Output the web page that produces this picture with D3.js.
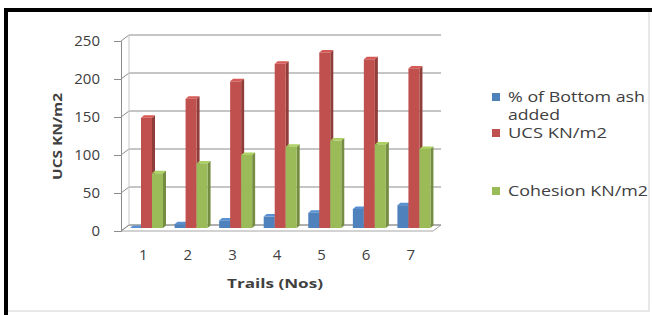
<!DOCTYPE html>
<html>
<head>
<meta charset="utf-8">
<script src="https://cdn.jsdelivr.net/npm/d3@7"></script>
<style>
  html, body { margin: 0; padding: 0; background: #fff; }
  svg { display: block; }
  text { font-family: "Open Sans", "DejaVu Sans", sans-serif; fill: #404040; }
</style>
</head>
<body>
<div id="chart"></div>
<script>
// Chart data
const trails = ['1', '2', '3', '4', '5', '6', '7'];
const bottomAsh = [0, 5, 10, 15, 20, 25, 30];
const ucs = [145, 170, 193, 216, 231, 222, 210];
const cohesion = [72, 85, 96, 107, 115, 110, 104];
const yTicks = [0, 50, 100, 150, 200, 250];

const seriesNames = ['% of Bottom ash added', 'UCS KN/m2', 'Cohesion KN/m2'];
const seriesColors = ['#4F81BD', '#C0504D', '#9BBB59'];

const width = 652, height = 315;

// 3D depth offsets of the back wall
const depthX = 8, depthY = -6;

const svg = d3.select('#chart').append('svg')
    .attr('width', width)
    .attr('height', height);

// Outer frame
svg.append('rect')
    .attr('x', 6).attr('y', 10)
    .attr('width', 643).attr('height', 301)
    .attr('fill', 'none')
    .attr('stroke', '#d0d0d0')
    .attr('stroke-width', 1);
svg.append('line').attr('x1', 4).attr('x2', 652).attr('y1', 10).attr('y2', 10)
    .attr('stroke', '#000').attr('stroke-width', 4);
svg.append('line').attr('x1', 6).attr('x2', 6).attr('y1', 8).attr('y2', 315)
    .attr('stroke', '#000').attr('stroke-width', 4);

// Scales
const x = d3.scaleBand().domain(trails).range([121, 433]).paddingInner(0).paddingOuter(0);
const y = d3.scaleLinear().domain([0, 250]).range([231, 41]);

const grid = svg.append('g');

// Floor
const x0 = x.range()[0], x1 = x.range()[1];
grid.append('path')
    .attr('d', `M${x0},${y(0)} L${x0 + depthX},${y(0) + depthY} L${x1 + depthX},${y(0) + depthY} L${x1},${y(0)} Z`)
    .attr('fill', 'none')
    .attr('stroke', '#a6a6a6');

// Back wall gridlines + side wall slants
yTicks.forEach(v => {
    grid.append('path')
        .attr('d', `M${x0},${y(v)} L${x0 + depthX},${y(v) + depthY} L${x1 + depthX},${y(v) + depthY}`)
        .attr('fill', 'none')
        .attr('stroke', '#8c8c8c')
        .attr('stroke-width', 1);
});

// Side wall back edge
grid.append('line')
    .attr('x1', x0 + depthX).attr('x2', x0 + depthX)
    .attr('y1', y(0) + depthY).attr('y2', y(250) + depthY)
    .attr('stroke', '#c8c8c8');

// Value axis
const yAxis = d3.axisLeft(y).tickValues(yTicks).tickSize(7).tickPadding(14);
const ya = svg.append('g').attr('transform', `translate(${x0},0)`).call(yAxis);
ya.select('.domain').attr('stroke', '#8c8c8c');
ya.selectAll('.tick line').attr('stroke', '#8c8c8c');
ya.selectAll('.tick text')
    .attr('font-size', 15)
    .attr('font-family', '"Open Sans", sans-serif')
    .attr('fill', '#404040');

// Bars
const barW = 11;
const bx = d3.scaleBand().domain(d3.range(3)).range([0, 33]);
const bdx = 3, bdy = -2.5;
const seriesData = [bottomAsh, ucs, cohesion];

const bars = svg.append('g');
trails.forEach((t, i) => {
    seriesData.forEach((vals, s) => {
        const v = vals[i];
        const left = x(t) + 5 + depthX / 2 + bx(s);
        const top = y(v) + depthY / 2;
        const bottom = y(0) + depthY / 2;
        const c = d3.color(seriesColors[s]);
        const g = bars.append('g');
        // side face
        g.append('path')
            .attr('d', `M${left + barW},${top} L${left + barW + bdx},${top + bdy} L${left + barW + bdx},${bottom + bdy} L${left + barW},${bottom} Z`)
            .attr('fill', c.darker(0.8));
        // top face
        g.append('path')
            .attr('d', `M${left},${top} L${left + bdx},${top + bdy} L${left + barW + bdx},${top + bdy} L${left + barW},${top} Z`)
            .attr('fill', c.brighter(0.3));
        // front face
        g.append('rect')
            .attr('x', left).attr('y', top)
            .attr('width', barW).attr('height', Math.max(0, bottom - top))
            .attr('fill', c);
    });
});

// Category labels
svg.append('g').selectAll('text')
    .data(trails)
    .enter()
    .append('text')
    .attr('x', d => x(d) + x.bandwidth() / 2)
    .attr('y', 260)
    .attr('text-anchor', 'middle')
    .attr('font-size', 15)
    .text(d => d);

// Axis titles
svg.append('text')
    .attr('x', 227).attr('y', 288)
    .attr('font-size', 13)
    .attr('font-weight', 'bold')
    .attr('textLength', 96)
    .attr('lengthAdjust', 'spacingAndGlyphs')
    .text('Trails (Nos)');

svg.append('text')
    .attr('transform', 'translate(62,180) rotate(-90)')
    .attr('font-size', 13)
    .attr('font-weight', 'bold')
    .attr('textLength', 87)
    .attr('lengthAdjust', 'spacingAndGlyphs')
    .text('UCS KN/m2');

// Legend
const legendItems = [
    { lines: [['% of Bottom ash', 137], ['added', 52]], y: 97, color: seriesColors[0] },
    { lines: [['UCS KN/m2', 99]], y: 133, color: seriesColors[1] },
    { lines: [['Cohesion KN/m2', 140]], y: 191, color: seriesColors[2] }
];
const legend = svg.append('g');
legendItems.forEach(item => {
    legend.append('rect')
        .attr('x', 492).attr('y', item.y - 4)
        .attr('width', 8).attr('height', 8)
        .attr('fill', item.color);
    item.lines.forEach(([ln, len], k) => {
        legend.append('text')
            .attr('x', 508)
            .attr('y', item.y + 5 + k * 18)
            .attr('font-size', 14.5)
            .attr('textLength', len)
            .attr('lengthAdjust', 'spacingAndGlyphs')
            .text(ln);
    });
});
</script>
</body>
</html>
